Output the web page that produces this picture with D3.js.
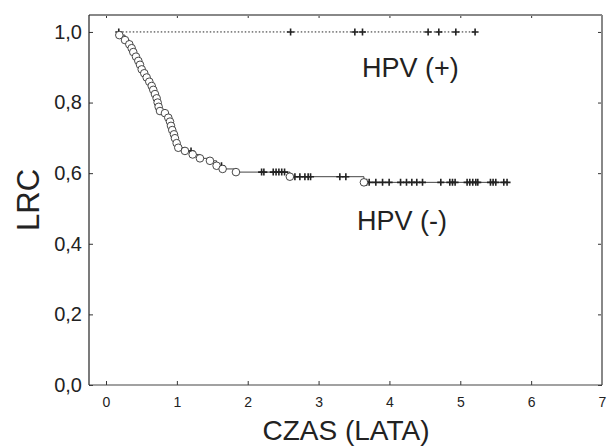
<!DOCTYPE html>
<html>
<head>
<meta charset="utf-8">
<script src="https://cdn.jsdelivr.net/npm/d3@7"></script>
<style>
  body { margin: 0; background: #fff; }
  svg { font-family: "Liberation Sans", Arial, sans-serif; }
</style>
</head>
<body>
<div id="chart"></div>
<script>
// HPV(-): event times (circles) and survival after each event
var negStart = 0.18;
var negEventTimes = [0.188, 0.268, 0.329, 0.362, 0.385, 0.423, 0.456, 0.480, 0.504, 0.540,
                     0.574, 0.611, 0.645, 0.667, 0.691, 0.715, 0.729, 0.743, 0.762, 0.832,
                     0.879, 0.903, 0.917, 0.935, 0.959, 0.973, 0.997, 1.020, 1.114, 1.223,
                     1.326, 1.467, 1.561, 1.646, 1.834, 2.595, 3.640];
var negEventSurv = [0.991, 0.977, 0.965, 0.954, 0.943, 0.930, 0.918, 0.907, 0.894, 0.883,
                    0.871, 0.859, 0.847, 0.836, 0.824, 0.812, 0.800, 0.788, 0.776, 0.770,
                    0.757, 0.746, 0.734, 0.722, 0.710, 0.699, 0.685, 0.672, 0.663, 0.653,
                    0.642, 0.635, 0.621, 0.612, 0.603, 0.590, 0.574];
// HPV(-): censored times (plus marks)
var negCensored = [1.20, 1.63, 2.196, 2.228, 2.36, 2.40, 2.44, 2.48, 2.52, 2.666, 2.736,
                   2.807, 2.853, 2.887, 3.30, 3.385, 3.677, 3.714, 3.808, 3.903, 3.996,
                   4.157, 4.241, 4.316, 4.386, 4.467, 4.725, 4.852, 4.890, 4.927, 5.096,
                   5.134, 5.176, 5.219, 5.247, 5.426, 5.463, 5.501, 5.614, 5.66];
// HPV(+): no events, only censored times
var posCensored = [0.18, 2.605, 3.512, 3.62, 4.546, 4.697, 4.937, 5.209];

var xTicks = [0, 1, 2, 3, 4, 5, 6, 7];
var yTicks = [0, 0.2, 0.4, 0.6, 0.8, 1.0];

var W = 611, H = 447;
var svg = d3.select("#chart").append("svg")
    .attr("width", W)
    .attr("height", H);

var x = d3.scaleLinear().domain([-0.24, 7]).range([89, 602]);
var y = d3.scaleLinear().domain([0, 1.048]).range([385, 15]);

var fmt = function(d) { return d3.format(".1f")(d).replace(".", ","); };

// bottom axis with labels
var gx = svg.append("g")
    .attr("transform", "translate(0," + y(0) + ")")
    .call(d3.axisBottom(x).tickValues(xTicks).tickSizeInner(-4).tickSizeOuter(0).tickPadding(12).tickFormat(d3.format("d")));
gx.select(".domain").remove();
gx.selectAll("text").style("font-size", "14px").attr("fill", "#222");

// left axis with labels
var gy = svg.append("g")
    .attr("transform", "translate(" + x.range()[0] + ",0)")
    .call(d3.axisLeft(y).tickValues(yTicks).tickSizeInner(-4).tickSizeOuter(0).tickPadding(7).tickFormat(fmt));
gy.select(".domain").remove();
gy.selectAll("text").style("font-size", "20px").attr("fill", "#222");

// top and right ticks only
var gt = svg.append("g")
    .attr("transform", "translate(0," + y.range()[1] + ")")
    .call(d3.axisTop(x).tickValues(xTicks).tickSizeInner(-3).tickSizeOuter(0).tickFormat(""));
gt.select(".domain").remove();
var gr = svg.append("g")
    .attr("transform", "translate(" + x.range()[1] + ",0)")
    .call(d3.axisRight(y).tickValues(yTicks).tickSizeInner(-4).tickSizeOuter(0).tickFormat(""));
gr.select(".domain").remove();
svg.selectAll(".tick line").attr("stroke", "#333");

// frame
var x0 = x.range()[0], x1 = x.range()[1], y0 = y.range()[0], y1 = y.range()[1];
svg.append("line").attr("x1", x0).attr("x2", x1).attr("y1", y1).attr("y2", y1)
    .attr("stroke", "#888").attr("stroke-width", 2);
svg.append("line").attr("x1", x1).attr("x2", x1).attr("y1", y1).attr("y2", y0)
    .attr("stroke", "#888").attr("stroke-width", 2);
svg.append("line").attr("x1", x0).attr("x2", x1).attr("y1", y0).attr("y2", y0)
    .attr("stroke", "#444").attr("stroke-width", 1.2);
svg.append("line").attr("x1", x0).attr("x2", x0).attr("y1", y1).attr("y2", y0)
    .attr("stroke", "#222").attr("stroke-width", 1.2);

// step lookup
function negSurvAt(t) {
    var s = 1;
    for (var i = 0; i < negEventTimes.length; i++) {
        if (negEventTimes[i] <= t) s = negEventSurv[i];
    }
    return s;
}

// HPV(+) dotted line
svg.append("path")
    .datum([[negStart, 1], [d3.max(posCensored), 1]])
    .attr("fill", "none")
    .attr("stroke", "#222")
    .attr("stroke-width", 1)
    .attr("stroke-dasharray", "1.5,2")
    .attr("d", d3.line().x(function(d) { return x(d[0]); }).y(function(d) { return y(d[1]); }));

// HPV(-) step curve
var negPts = [[negStart, 1]];
negEventTimes.forEach(function(t, i) { negPts.push([t, negEventSurv[i]]); });
negPts.push([d3.max(negCensored), negSurvAt(d3.max(negCensored))]);
svg.append("path")
    .datum(negPts)
    .attr("fill", "none")
    .attr("stroke", "#444")
    .attr("stroke-width", 1)
    .attr("d", d3.line().curve(d3.curveStepAfter)
        .x(function(d) { return x(d[0]); }).y(function(d) { return y(d[1]); }));

// plus marks
function drawPlus(data, sfun) {
    svg.append("g").selectAll("path")
        .data(data)
        .enter().append("path")
        .attr("transform", function(d) { return "translate(" + x(d) + "," + y(sfun(d)) + ")"; })
        .attr("d", "M-3.5,0H3.5M0,-3.5V3.5")
        .attr("stroke", "#222")
        .attr("stroke-width", 1.6)
        .attr("fill", "none");
}
drawPlus(posCensored, function() { return 1; });
drawPlus(negCensored, negSurvAt);

// circles for events
svg.append("g").selectAll("circle")
    .data(negEventTimes)
    .enter().append("circle")
    .attr("cx", function(d) { return x(d); })
    .attr("cy", function(d, i) { return y(negEventSurv[i]); })
    .attr("r", 3.8)
    .attr("fill", "#fff")
    .attr("stroke", "#333")
    .attr("stroke-width", 0.9);

// labels
svg.append("text").attr("x", 362).attr("y", 77).text("HPV (+)")
    .style("font-size", "27px").attr("fill", "#222");
svg.append("text").attr("x", 357).attr("y", 230).text("HPV (-)")
    .style("font-size", "27px").attr("fill", "#222");

svg.append("text")
    .attr("x", 346).attr("y", 440)
    .attr("text-anchor", "middle")
    .text("CZAS (LATA)")
    .style("font-size", "28px").attr("fill", "#222");

svg.append("text")
    .attr("transform", "translate(39," + ((y0 + y1) / 2) + ") rotate(-90)")
    .attr("text-anchor", "middle")
    .text("LRC")
    .style("font-size", "31px").attr("fill", "#222");
</script>
</body>
</html>
